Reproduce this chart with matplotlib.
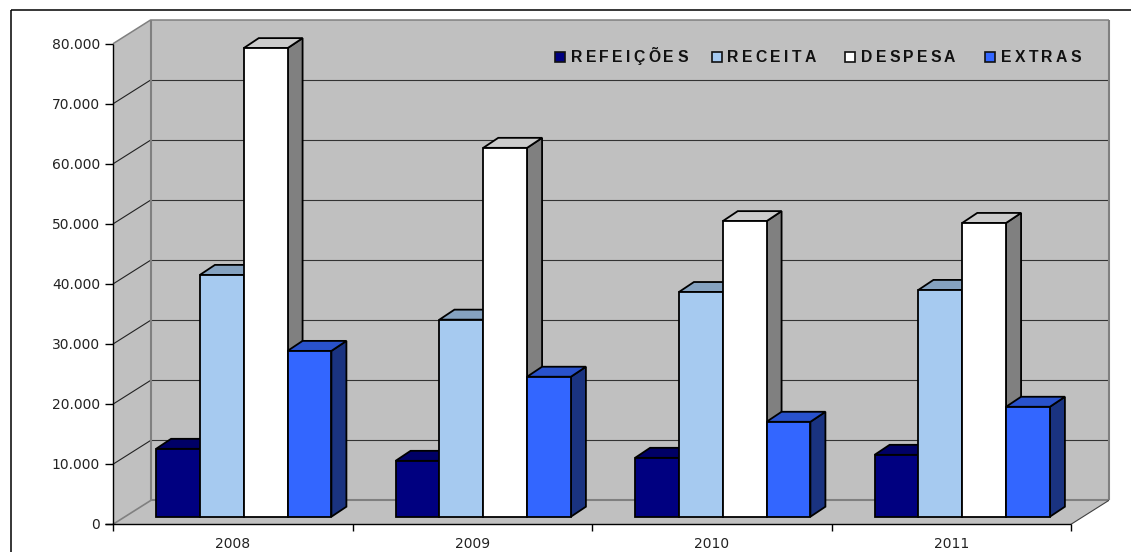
import matplotlib
matplotlib.use("Agg")
import matplotlib.pyplot as plt
from matplotlib.patches import Polygon, Rectangle
from matplotlib.transforms import IdentityTransform
from matplotlib.lines import Line2D
from matplotlib.text import Text
from matplotlib.font_manager import findfont, get_font
from matplotlib.ft2font import LoadFlags

plt.rcParams['font.family'] = ['DejaVu Sans']

years = ['2008', '2009', '2010', '2011']
series = ['REFEIÇÕES', 'RECEITA', 'DESPESA', 'EXTRAS']
refeicoes = [11300, 9300, 9800, 10300]
receita = [40250, 32800, 37400, 37750]
despesa = [78000, 61400, 49200, 48900]
extras = [27600, 23300, 15800, 18300]
values = [refeicoes, receita, despesa, extras]
yticks = [0, 10000, 20000, 30000, 40000, 50000, 60000, 70000, 80000]
front_colors = ['#000080', '#A6CAF0', '#FFFFFF', '#3366FF']
top_colors = ['#000066', '#85A2C0', '#CCCCCC', '#2952CC']
side_colors = ['#000040', '#536578', '#808080', '#1A3380']


class SpacedText(Text):
    """One real text object, drawn with extra letter spacing (in pixels)."""
    tracking = 0.0

    def draw(self, renderer):
        prop = self.get_fontproperties()
        font = get_font(findfont(prop))
        font.set_size(prop.get_size_in_points(), self.get_figure().dpi)
        x, y = self.get_transform().transform(self.get_position())
        y = renderer.height - y
        gc = renderer.new_gc()
        gc.set_foreground(self.get_color())
        for ch in self.get_text():
            renderer.draw_text(gc, x, y, ch, prop, 0, False)
            g = font.load_char(ord(ch), flags=LoadFlags.NO_HINTING)
            x += g.linearHoriAdvance / 65536 + self.tracking
        gc.restore()


W, H = 1131, 552
fig = plt.figure(figsize=(W/100, H/100), dpi=100, facecolor='white')
ax = fig.add_axes([113/W, (H-524.3)/H, 958/W, 480.6/H])
ax.set_xlim(0, 4)
ax.set_ylim(0, 80000)
ax.axis('off')

WALL = '#C0C0C0'
EDGE = '#808080'
DX, DY = 38, 24       # wall depth in pixels
BX, BY = 11, 7.6      # bar front offset from floor front
dX, dY = 15, 10       # bar depth


def disp(x, y, ox=0, oy=0):
    p = ax.transData.transform((x, y))
    return (p[0]+ox, p[1]+oy)


def poly(pts, z, fc, ec='none', lw=0):
    fig.add_artist(Polygon(pts, closed=True, transform=IdentityTransform(),
                           fc=fc, ec=ec, lw=lw, zorder=z, joinstyle='miter'))


def seg(a, b, z, c='black', lw=1.0):
    fig.add_artist(Line2D([a[0], b[0]], [a[1], b[1]], transform=IdentityTransform(),
                          color=c, lw=lw, zorder=z, solid_capstyle='butt'))


# outer frame
seg((10.5, H-10), (W, H-10), 0.5, 'black', 1.1)
seg((10.5, H-10), (10.5, 0), 0.5, 'black', 1.1)

# walls and floor
poly([disp(0, 0), disp(0, 80000), disp(0, 80000, DX, DY), disp(0, 0, DX, DY)], 1, WALL)
poly([disp(0, 0, DX, DY), disp(0, 80000, DX, DY), disp(4, 80000, DX, DY), disp(4, 0, DX, DY)], 1, WALL)
poly([disp(0, 0), disp(4, 0), disp(4, 0, DX, DY), disp(0, 0, DX, DY)], 1, WALL)

# gridlines
for t in yticks[1:-1]:
    seg(disp(0, t), disp(0, t, DX, DY), 2, '#222222', 0.8)
    seg(disp(0, t, DX, DY), disp(4, t, DX, DY), 2, '#333333', 0.8)

# wall borders
seg(disp(0, 80000), disp(0, 80000, DX, DY), 2.2, EDGE, 1.1)
seg(disp(0, 80000, DX, DY), disp(4, 80000, DX, DY), 2.2, EDGE, 1.1)
seg(disp(0, 0, DX, DY), disp(0, 80000, DX, DY), 2.2, EDGE, 1.5)
seg(disp(4, 0, DX, DY), disp(4, 80000, DX, DY), 2.2, EDGE, 1.5)
seg(disp(0, 0, DX, DY), disp(4, 0, DX, DY), 2.2, EDGE, 1.5)
seg(disp(0, 0), disp(0, 0, DX, DY), 2.2, EDGE, 1.2)
seg(disp(4, 0), disp(4, 0, DX, DY), 2.2, '#404040', 0.8)

# bars
bw = 0.183
lw = 1.3
for i in range(4):
    for s in range(4):
        left = i + 0.5 - 2*bw + s*bw
        right = left + bw
        v = values[s][i]
        z = 3 + i + s*0.1
        a = disp(left, 0, BX, BY)
        b = disp(right, 0, BX, BY)
        c = disp(right, v, BX, BY)
        d = disp(left, v, BX, BY)
        poly([b, c, (c[0]+dX, c[1]+dY), (b[0]+dX, b[1]+dY)], z, side_colors[s], 'black', lw)
        poly([d, c, (c[0]+dX, c[1]+dY), (d[0]+dX, d[1]+dY)], z, top_colors[s], 'black', lw)
        poly([a, b, c, d], z+0.01, front_colors[s], 'black', lw)

# axes
seg(disp(0, 0), disp(0, 80000), 2.5, 'black', 1.0)
seg(disp(0, 0, -8, 0), disp(4, 0), 2.5, 'black', 1.0)
fs = 10
for t in yticks:
    seg(disp(0, t, -8, 0), disp(0, t), 2.5, 'black', 1.0)
    label = f'{t:,}'.replace(',', '.')
    p = disp(0, t, -13, -1)
    fig.text(p[0]/W, p[1]/H, label, ha='right', va='center', fontsize=fs, color='#222222', zorder=5)
for i in range(5):
    seg(disp(i, 0), disp(i, 0, 0, -7), 2.5, 'black', 1.0)
for i, y in enumerate(years):
    p = disp(i+0.5, 0, 0, -20)
    fig.text(p[0]/W, p[1]/H, y, ha='center', va='center', fontsize=fs, color='#222222', zorder=5)

# legend
leg_sw = [554.5, 711.5, 844.5, 985]  # swatch left pixel per series
leg_tx = [571, 727.5, 861, 1001]
for s, name in enumerate(series):
    fig.add_artist(Rectangle((leg_sw[s]/W, (H-61.5)/H), 10/W, 10/H, transform=fig.transFigure,
                             fc=front_colors[s], ec='#111111', lw=1.2, zorder=6))
    t = SpacedText(leg_tx[s]/W, (H-62)/H, name, transform=fig.transFigure, ha='left',
                   va='baseline', fontsize=11.3, fontweight='bold',
                   family=['Liberation Sans'], color='#111111', zorder=6)
    t.tracking = 3.2
    fig.add_artist(t)

fig.savefig('out.png', dpi=100)
